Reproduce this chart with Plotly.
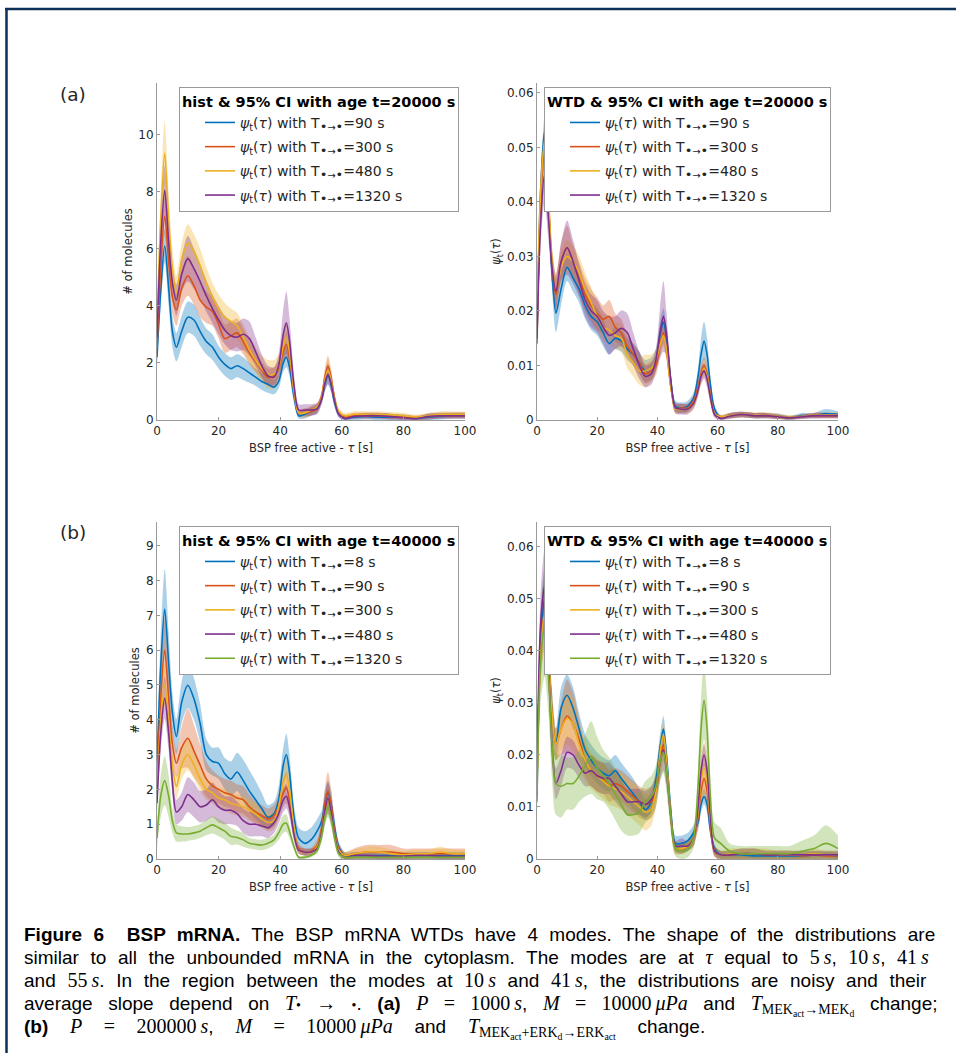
import plotly.graph_objects as go

W, H = 956, 1053

# ---------------- data ----------------
TAU = [0, 1.2, 2.5, 3.8, 5, 6.3,
       8, 10, 12, 14, 16, 18, 20, 22, 24, 26, 28, 30, 32, 34, 36, 38,
       39.5, 41, 42, 43, 44.5, 46,
       48, 50, 52,
       53.5, 54.5, 55.5, 56.5, 57.5, 59,
       61, 64, 68, 72, 76, 80, 84, 88, 92, 96, 100]

# (a) histogram, age t=20000 s
A_T = ["90", "300", "480", "1320"]
A_M = [
    [2.2, 4.5, 6.1, 4.6, 3.1, 2.55,
     3.1, 3.6, 3.5, 3.1, 2.75, 2.55, 2.2, 1.95, 1.8, 1.9, 1.8, 1.65, 1.5, 1.35, 1.25, 1.15,
     1.35, 2.0, 2.2, 1.85, 0.8, 0.15,
     0.2, 0.3, 0.4,
     0.75, 1.25, 1.55, 1.25, 0.7, 0.2,
     0.05, 0.1, 0.12, 0.1, 0.1, 0.1, 0.05, 0.1, 0.12, 0.15, 0.15],
    [2.5, 5.3, 7.15, 5.5, 4.3, 3.85,
     4.6, 5.05, 4.7, 4.2, 3.95, 3.8, 3.35, 2.85, 2.95, 3.05, 2.75, 2.35, 2.05, 1.75, 1.5, 1.55,
     1.8, 2.4, 2.65, 2.2, 1.0, 0.25,
     0.25, 0.3, 0.4,
     0.85, 1.5, 1.9, 1.5, 0.85, 0.25,
     0.1, 0.15, 0.15, 0.15, 0.12, 0.1, 0.08, 0.12, 0.15, 0.15, 0.15],
    [3.3, 7.0, 9.35, 7.0, 5.3, 4.45,
     5.6, 6.2, 5.9, 5.4, 4.8, 4.3, 3.9, 3.6, 3.45, 3.3, 2.9, 2.45, 2.1, 1.8, 1.6, 1.6,
     1.85, 2.6, 2.9, 2.4, 1.0, 0.25,
     0.25, 0.35, 0.45,
     0.8, 1.4, 1.75, 1.4, 0.8, 0.3,
     0.15, 0.2, 0.2, 0.2, 0.18, 0.15, 0.1, 0.15, 0.2, 0.2, 0.2],
    [2.9, 6.2, 8.05, 6.2, 4.8, 4.2,
     5.1, 5.65, 5.3, 4.85, 4.35, 3.9, 3.5, 3.15, 2.95, 2.9, 3.0, 2.85, 2.4, 1.9, 1.55, 1.5,
     1.9, 3.0, 3.4, 2.8, 1.2, 0.35,
     0.35, 0.35, 0.4,
     0.75, 1.3, 1.6, 1.3, 0.75, 0.2,
     0.05, 0.12, 0.15, 0.15, 0.12, 0.08, 0.05, 0.12, 0.15, 0.15, 0.15],
]
A_HW = [
    [0.3, 0.5, 0.6, 0.6, 0.55, 0.5,
     0.55, 0.55, 0.55, 0.5, 0.45, 0.45, 0.4, 0.4, 0.4, 0.4, 0.4, 0.35, 0.3, 0.3, 0.3, 0.25,
     0.25, 0.3, 0.35, 0.3, 0.2, 0.1,
     0.15, 0.15, 0.15,
     0.15, 0.25, 0.3, 0.25, 0.2, 0.1,
     0.05, 0.1, 0.1, 0.1, 0.1, 0.1, 0.08, 0.1, 0.1, 0.1, 0.1],
    [0.4, 0.6, 0.7, 0.65, 0.6, 0.55,
     0.6, 0.7, 0.65, 0.6, 0.55, 0.5, 0.5, 0.5, 0.5, 0.5, 0.45, 0.4, 0.35, 0.3, 0.3, 0.3,
     0.3, 0.4, 0.45, 0.4, 0.25, 0.12,
     0.15, 0.15, 0.15,
     0.2, 0.3, 0.35, 0.3, 0.2, 0.1,
     0.08, 0.1, 0.1, 0.1, 0.1, 0.08, 0.08, 0.1, 0.1, 0.1, 0.1],
    [0.6, 0.9, 1.1, 0.9, 0.7, 0.6,
     0.6, 0.65, 0.6, 0.6, 0.55, 0.5, 0.5, 0.5, 0.45, 0.45, 0.45, 0.45, 0.45, 0.45, 0.5, 0.5,
     0.45, 0.5, 0.5, 0.45, 0.25, 0.12,
     0.15, 0.15, 0.15,
     0.2, 0.3, 0.35, 0.3, 0.2, 0.12,
     0.1, 0.1, 0.1, 0.1, 0.1, 0.1, 0.08, 0.1, 0.1, 0.1, 0.1],
    [0.5, 0.7, 0.85, 0.75, 0.6, 0.55,
     0.6, 0.8, 0.7, 0.6, 0.55, 0.5, 0.5, 0.5, 0.5, 0.5, 0.55, 0.6, 0.5, 0.4, 0.35, 0.35,
     0.4, 0.9, 1.1, 0.8, 0.4, 0.2,
     0.2, 0.2, 0.2,
     0.2, 0.3, 0.35, 0.3, 0.2, 0.1,
     0.05, 0.08, 0.1, 0.1, 0.1, 0.08, 0.05, 0.1, 0.1, 0.1, 0.1],
]

# (a) WTD, age t=20000 s
B_M = [
    [0.015, 0.042, 0.053, 0.040, 0.027, 0.0196,
     0.024, 0.028, 0.026, 0.024, 0.021, 0.019, 0.018, 0.016, 0.014, 0.015, 0.0145, 0.013, 0.012, 0.0105, 0.009, 0.0095,
     0.011, 0.016, 0.018, 0.015, 0.007, 0.0025,
     0.0022, 0.0025, 0.004,
     0.008, 0.012, 0.0145, 0.012, 0.007, 0.002,
     0.0005, 0.0008, 0.001, 0.0008, 0.0008, 0.0007, 0.0004, 0.0008, 0.0008, 0.0012, 0.001],
    [0.014, 0.040, 0.049, 0.040, 0.028, 0.023,
     0.029, 0.0316, 0.029, 0.026, 0.023, 0.021, 0.0195, 0.0185, 0.019, 0.017, 0.016, 0.0135, 0.012, 0.0105, 0.0085, 0.009,
     0.010, 0.014, 0.016, 0.013, 0.006, 0.0022,
     0.0022, 0.0022, 0.0035,
     0.006, 0.0085, 0.010, 0.0085, 0.005, 0.0012,
     0.0005, 0.0008, 0.001, 0.0008, 0.0008, 0.0006, 0.0004, 0.0006, 0.0008, 0.0008, 0.0008],
    [0.018, 0.042, 0.051, 0.041, 0.029, 0.024,
     0.028, 0.030, 0.029, 0.027, 0.024, 0.0215, 0.019, 0.017, 0.0165, 0.0155, 0.015, 0.012, 0.0105, 0.009, 0.009, 0.0095,
     0.011, 0.014, 0.0155, 0.013, 0.006, 0.002,
     0.002, 0.002, 0.003,
     0.0055, 0.008, 0.0095, 0.008, 0.0045, 0.0012,
     0.0006, 0.0008, 0.001, 0.0009, 0.0009, 0.0007, 0.0005, 0.0007, 0.0009, 0.0009, 0.0009],
    [0.015, 0.036, 0.045, 0.037, 0.028, 0.0236,
     0.029, 0.0316, 0.029, 0.0255, 0.022, 0.020, 0.019, 0.017, 0.0155, 0.016, 0.0168, 0.016, 0.013, 0.010, 0.008, 0.0085,
     0.011, 0.0165, 0.019, 0.016, 0.007, 0.0022,
     0.002, 0.002, 0.003,
     0.0055, 0.008, 0.009, 0.0075, 0.0045, 0.001,
     0.0003, 0.0007, 0.001, 0.0008, 0.0008, 0.0006, 0.0004, 0.0006, 0.0008, 0.0008, 0.0008],
]
B_HW = [
    [0.001, 0.002, 0.0025, 0.0025, 0.003, 0.0035,
     0.003, 0.0025, 0.0025, 0.0025, 0.0025, 0.0025, 0.0025, 0.0025, 0.002, 0.002, 0.002, 0.002, 0.002, 0.002, 0.002, 0.002,
     0.002, 0.0025, 0.0025, 0.002, 0.0012, 0.001,
     0.001, 0.001, 0.001,
     0.0015, 0.003, 0.0035, 0.003, 0.0015, 0.0008,
     0.0004, 0.0005, 0.0005, 0.0005, 0.0005, 0.0005, 0.0004, 0.0005, 0.0005, 0.0008, 0.0006],
    [0.001, 0.0025, 0.003, 0.003, 0.003, 0.003,
     0.0035, 0.004, 0.003, 0.003, 0.003, 0.003, 0.003, 0.0025, 0.003, 0.0025, 0.0025, 0.002, 0.002, 0.002, 0.0018, 0.0018,
     0.0018, 0.002, 0.002, 0.0018, 0.001, 0.0008,
     0.0008, 0.0008, 0.001,
     0.0012, 0.0015, 0.0015, 0.0015, 0.0012, 0.0006,
     0.0004, 0.0005, 0.0005, 0.0005, 0.0005, 0.0004, 0.0003, 0.0004, 0.0005, 0.0005, 0.0005],
    [0.003, 0.003, 0.003, 0.003, 0.003, 0.003,
     0.003, 0.003, 0.003, 0.003, 0.003, 0.0028, 0.0025, 0.0025, 0.0025, 0.0025, 0.0025, 0.0025, 0.0025, 0.0025, 0.003, 0.0025,
     0.002, 0.002, 0.002, 0.0018, 0.001, 0.0008,
     0.0008, 0.0008, 0.001,
     0.0012, 0.0015, 0.0015, 0.0015, 0.0012, 0.0006,
     0.0004, 0.0005, 0.0005, 0.0005, 0.0005, 0.0005, 0.0004, 0.0003, 0.0004, 0.0005, 0.0005],
    [0.002, 0.004, 0.005, 0.004, 0.003, 0.003,
     0.0035, 0.005, 0.004, 0.003, 0.003, 0.003, 0.003, 0.003, 0.0035, 0.003, 0.0033, 0.0035, 0.003, 0.0025, 0.002, 0.002,
     0.002, 0.005, 0.0065, 0.004, 0.0015, 0.001,
     0.001, 0.001, 0.001,
     0.0012, 0.0015, 0.0015, 0.0015, 0.0012, 0.0006,
     0.0003, 0.0005, 0.0005, 0.0005, 0.0005, 0.0004, 0.0003, 0.0004, 0.0005, 0.0005, 0.0005],
]

# (b) histogram, age t=40000 s
C_T = ["8", "90", "300", "480", "1320"]
C_M = [
    [2.7, 5.5, 7.18, 5.6, 4.2, 3.52,
     4.5, 4.99, 4.6, 3.9, 3.0, 2.8, 2.75, 2.45, 2.3, 2.5, 2.25, 1.95, 1.7, 1.45, 1.2, 1.3,
     1.7, 2.7, 3.0, 2.5, 1.2, 0.6,
     0.45, 0.55, 0.8,
     1.1, 1.6, 1.9, 1.6, 1.0, 0.35,
     0.1, 0.1, 0.1, 0.1, 0.1, 0.1, 0.1, 0.1, 0.1, 0.1, 0.1],
    [2.2, 4.6, 6.0, 4.6, 3.3, 2.75,
     3.2, 3.47, 3.1, 2.7, 2.3, 2.1, 2.0, 1.9, 1.85, 1.75, 1.7, 1.5, 1.35, 1.25, 1.15, 1.25,
     1.5, 1.9, 2.05, 1.7, 0.8, 0.3,
     0.2, 0.22, 0.4,
     0.9, 1.6, 1.95, 1.6, 0.9, 0.3,
     0.1, 0.15, 0.2, 0.2, 0.2, 0.15, 0.15, 0.15, 0.15, 0.15, 0.15],
    [2.0, 3.9, 5.0, 3.9, 2.7, 2.08,
     2.7, 3.0, 2.7, 2.3, 2.0, 1.9, 1.75, 1.7, 1.6, 1.55, 1.5, 1.4, 1.3, 1.15, 1.05, 1.1,
     1.5, 2.2, 2.4, 2.0, 0.9, 0.25,
     0.2, 0.2, 0.35,
     0.8, 1.4, 1.7, 1.4, 0.8, 0.25,
     0.1, 0.15, 0.2, 0.2, 0.15, 0.12, 0.15, 0.15, 0.2, 0.15, 0.15],
    [1.6, 3.6, 4.62, 3.6, 2.2, 1.35,
     1.5, 1.85, 1.7, 1.5, 1.55, 1.7, 1.5, 1.4, 1.4, 1.3, 1.1, 1.0, 1.0, 0.95, 0.9, 1.05,
     1.3, 1.7, 1.8, 1.5, 0.7, 0.25,
     0.2, 0.2, 0.3,
     0.8, 1.4, 1.75, 1.4, 0.8, 0.2,
     0.05, 0.1, 0.1, 0.08, 0.08, 0.08, 0.1, 0.1, 0.08, 0.08, 0.08],
    [0.6, 1.8, 2.25, 1.8, 1.1, 0.75,
     0.72, 0.72, 0.75, 0.8, 0.9, 0.98, 0.9, 0.8, 0.65, 0.62, 0.55, 0.45, 0.42, 0.4, 0.45, 0.55,
     0.75, 1.0, 1.03, 0.8, 0.35, 0.05,
     0.05, 0.1, 0.25,
     0.7, 1.2, 1.5, 1.2, 0.7, 0.15,
     0.05, 0.05, 0.05, 0.05, 0.05, 0.05, 0.05, 0.05, 0.05, 0.05, 0.05],
]
C_HW = [
    [0.5, 0.9, 1.15, 0.9, 0.6, 0.5,
     0.6, 0.65, 0.6, 0.55, 0.45, 0.4, 0.45, 0.45, 0.5, 0.55, 0.6, 0.6, 0.55, 0.45, 0.35, 0.35,
     0.4, 0.5, 0.6, 0.5, 0.35, 0.3,
     0.35, 0.35, 0.35,
     0.3, 0.35, 0.35, 0.35, 0.3, 0.15,
     0.1, 0.1, 0.1, 0.1, 0.1, 0.1, 0.1, 0.1, 0.1, 0.1, 0.1],
    [0.4, 0.7, 0.9, 0.75, 0.5, 0.4,
     0.6, 0.85, 0.75, 0.6, 0.5, 0.45, 0.4, 0.4, 0.4, 0.4, 0.4, 0.35, 0.3, 0.3, 0.3, 0.3,
     0.35, 0.4, 0.45, 0.4, 0.25, 0.15,
     0.1, 0.1, 0.15,
     0.25, 0.45, 0.55, 0.45, 0.25, 0.15,
     0.1, 0.15, 0.2, 0.2, 0.2, 0.15, 0.15, 0.15, 0.15, 0.15, 0.15],
    [0.4, 0.5, 0.6, 0.5, 0.4, 0.35,
     0.4, 0.45, 0.4, 0.35, 0.3, 0.3, 0.3, 0.3, 0.3, 0.3, 0.3, 0.3, 0.3, 0.25, 0.25, 0.25,
     0.3, 0.35, 0.4, 0.35, 0.25, 0.1,
     0.1, 0.1, 0.15,
     0.25, 0.35, 0.4, 0.35, 0.25, 0.12,
     0.1, 0.12, 0.15, 0.15, 0.12, 0.1, 0.12, 0.12, 0.15, 0.12, 0.12],
    [0.3, 0.5, 0.6, 0.5, 0.4, 0.35,
     0.4, 0.5, 0.5, 0.45, 0.45, 0.5, 0.45, 0.4, 0.4, 0.35, 0.35, 0.35, 0.35, 0.3, 0.3, 0.3,
     0.3, 0.35, 0.35, 0.3, 0.2, 0.1,
     0.1, 0.1, 0.1,
     0.25, 0.4, 0.45, 0.4, 0.25, 0.1,
     0.05, 0.08, 0.08, 0.08, 0.08, 0.08, 0.08, 0.08, 0.08, 0.08, 0.08],
    [0.3, 0.6, 0.7, 0.6, 0.35, 0.25,
     0.22, 0.2, 0.2, 0.2, 0.22, 0.25, 0.25, 0.25, 0.25, 0.2, 0.2, 0.15, 0.15, 0.15, 0.15, 0.15,
     0.2, 0.25, 0.25, 0.2, 0.1, 0.05,
     0.05, 0.05, 0.1,
     0.2, 0.25, 0.3, 0.25, 0.2, 0.1,
     0.1, 0.08, 0.08, 0.08, 0.08, 0.08, 0.08, 0.08, 0.08, 0.08, 0.08],
]

# (b) WTD, age t=40000 s
D_M = [
    [0.012, 0.042, 0.050, 0.040, 0.028, 0.022,
     0.029, 0.0315, 0.029, 0.025, 0.021, 0.019, 0.0175, 0.0165, 0.016, 0.017, 0.0155, 0.014, 0.0125, 0.011, 0.0095, 0.011,
     0.015, 0.022, 0.025, 0.020, 0.009, 0.003,
     0.003, 0.0035, 0.005,
     0.007, 0.0105, 0.012, 0.0105, 0.006, 0.002,
     0.0008, 0.0008, 0.0008, 0.0006, 0.0006, 0.0006, 0.0006, 0.0006, 0.0008, 0.0008, 0.0006],
    [0.014, 0.040, 0.0475, 0.039, 0.028, 0.022,
     0.025, 0.0275, 0.026, 0.023, 0.019, 0.017, 0.016, 0.0155, 0.014, 0.0145, 0.014, 0.013, 0.012, 0.011, 0.0105, 0.011,
     0.013, 0.019, 0.022, 0.018, 0.008, 0.002,
     0.002, 0.0025, 0.004,
     0.008, 0.013, 0.0155, 0.013, 0.007, 0.0015,
     0.0008, 0.0008, 0.001, 0.001, 0.0008, 0.0008, 0.0008, 0.0006, 0.0008, 0.0006, 0.0006],
    [0.015, 0.039, 0.047, 0.039, 0.028, 0.022,
     0.025, 0.027, 0.026, 0.022, 0.019, 0.017, 0.016, 0.015, 0.014, 0.0135, 0.013, 0.012, 0.011, 0.010, 0.009, 0.0095,
     0.013, 0.021, 0.024, 0.019, 0.008, 0.002,
     0.002, 0.0025, 0.004,
     0.009, 0.015, 0.0175, 0.015, 0.008, 0.0015,
     0.0008, 0.001, 0.001, 0.001, 0.001, 0.0008, 0.0008, 0.0008, 0.001, 0.0008, 0.0008],
    [0.018, 0.045, 0.0525, 0.038, 0.022, 0.0145,
     0.017, 0.0205, 0.020, 0.018, 0.0165, 0.017, 0.016, 0.0155, 0.0155, 0.014, 0.0125, 0.011, 0.011, 0.011, 0.0105, 0.0115,
     0.014, 0.019, 0.021, 0.017, 0.008, 0.0025,
     0.0025, 0.0025, 0.004,
     0.010, 0.017, 0.020, 0.017, 0.009, 0.0015,
     0.0008, 0.0008, 0.001, 0.001, 0.0008, 0.0008, 0.0008, 0.0008, 0.0008, 0.0008, 0.0008],
    [0.011, 0.038, 0.045, 0.036, 0.022, 0.0145,
     0.014, 0.0145, 0.0145, 0.016, 0.018, 0.0195, 0.0175, 0.016, 0.0145, 0.0125, 0.0105, 0.0085, 0.0085, 0.009, 0.011, 0.012,
     0.014, 0.019, 0.0205, 0.017, 0.008, 0.002,
     0.0015, 0.0018, 0.004,
     0.014, 0.025, 0.0305, 0.025, 0.013, 0.004,
     0.003, 0.0015, 0.001, 0.001, 0.001, 0.001, 0.001, 0.0015, 0.002, 0.003, 0.002],
]
D_HW = [
    [0.002, 0.005, 0.006, 0.005, 0.004, 0.003,
     0.004, 0.004, 0.004, 0.003, 0.003, 0.003, 0.003, 0.003, 0.003, 0.003, 0.003, 0.003, 0.003, 0.0025, 0.002, 0.002,
     0.002, 0.0025, 0.0025, 0.0025, 0.002, 0.0015,
     0.0015, 0.0015, 0.0015,
     0.0015, 0.0015, 0.0015, 0.0015, 0.0015, 0.0008,
     0.0005, 0.0005, 0.0005, 0.0005, 0.0005, 0.0005, 0.0005, 0.0005, 0.0005, 0.0005, 0.0005],
    [0.002, 0.006, 0.007, 0.006, 0.004, 0.003,
     0.005, 0.007, 0.006, 0.004, 0.003, 0.003, 0.003, 0.003, 0.003, 0.003, 0.003, 0.003, 0.003, 0.003, 0.003, 0.003,
     0.003, 0.003, 0.003, 0.003, 0.002, 0.001,
     0.001, 0.001, 0.0015,
     0.002, 0.003, 0.003, 0.003, 0.002, 0.001,
     0.0008, 0.0008, 0.001, 0.001, 0.0008, 0.0008, 0.0008, 0.0008, 0.0008, 0.0008, 0.0008],
    [0.002, 0.005, 0.006, 0.005, 0.004, 0.003,
     0.004, 0.005, 0.005, 0.004, 0.004, 0.0035, 0.0035, 0.0035, 0.0035, 0.0035, 0.0035, 0.0035, 0.0035, 0.0035, 0.0035, 0.003,
     0.003, 0.0025, 0.0025, 0.0025, 0.0015, 0.001,
     0.001, 0.001, 0.0015,
     0.003, 0.0045, 0.005, 0.0045, 0.003, 0.001,
     0.0008, 0.001, 0.001, 0.001, 0.001, 0.0008, 0.0008, 0.0008, 0.001, 0.0008, 0.0008],
    [0.002, 0.006, 0.007, 0.006, 0.004, 0.003,
     0.003, 0.003, 0.0028, 0.0025, 0.0025, 0.003, 0.003, 0.003, 0.003, 0.003, 0.0028, 0.0025, 0.0025, 0.0025, 0.0025, 0.0025,
     0.0025, 0.0035, 0.004, 0.003, 0.0015, 0.001,
     0.0015, 0.001, 0.0015,
     0.002, 0.002, 0.002, 0.002, 0.002, 0.001,
     0.0008, 0.0008, 0.001, 0.001, 0.0008, 0.0008, 0.0008, 0.0008, 0.0008, 0.0008, 0.0008],
    [0.003, 0.008, 0.01, 0.008, 0.007, 0.006,
     0.006, 0.005, 0.005, 0.005, 0.006, 0.007, 0.006, 0.005, 0.005, 0.005, 0.005, 0.004, 0.004, 0.004, 0.004, 0.004,
     0.004, 0.004, 0.004, 0.004, 0.003, 0.0015,
     0.0015, 0.0015, 0.002,
     0.004, 0.006, 0.0075, 0.006, 0.004, 0.003,
     0.003, 0.0015, 0.0015, 0.0015, 0.0015, 0.0015, 0.0015, 0.002, 0.0025, 0.0035, 0.0025],
]

for arr in A_M + A_HW + B_M + B_HW + C_M + C_HW + D_M + D_HW:
    assert len(arr) == len(TAU), len(arr)

COLORS = ["#0072BD", "#D95319", "#EDB120", "#7E2F8E", "#77AC30"]
BANDS = ["rgba(0,114,189,0.33)", "rgba(217,83,25,0.33)", "rgba(237,177,32,0.33)",
         "rgba(126,47,142,0.33)", "rgba(119,172,48,0.33)"]

TXT = "#262626"
FONT = "DejaVu Sans"


def px_x(p):
    return p / W


def px_y(p):
    return 1 - p / H


fig = go.Figure()

BUL = '<span style="font-size:13px">•</span>'
PANELS = [
    ("x", "y", "legend", A_M, A_HW, A_T),
    ("x2", "y2", "legend2", B_M, B_HW, A_T),
    ("x3", "y3", "legend3", C_M, C_HW, C_T),
    ("x4", "y4", "legend4", D_M, D_HW, C_T),
]

for xa, ya, lg, means, hws, labels in PANELS:
    for i, (m, hw) in enumerate(zip(means, hws)):
        lo = [a - b for a, b in zip(m, hw)]
        hi = [a + b for a, b in zip(m, hw)]
        grp = f"{lg}_{i}"
        fig.add_trace(go.Scatter(x=TAU, y=lo, xaxis=xa, yaxis=ya, mode="lines",
                                 line=dict(width=0, shape="spline", smoothing=0.8),
                                 showlegend=False, legend=lg, legendgroup=grp, hoverinfo="skip"))
        fig.add_trace(go.Scatter(x=TAU, y=hi, xaxis=xa, yaxis=ya, mode="lines",
                                 line=dict(width=0, shape="spline", smoothing=0.8),
                                 fill="tonexty", fillcolor=BANDS[i],
                                 showlegend=False, legend=lg, legendgroup=grp, hoverinfo="skip"))
    for i, (m, lab) in enumerate(zip(means, labels)):
        grp = f"{lg}_{i}"
        fig.add_trace(go.Scatter(
            x=TAU, y=m, xaxis=xa, yaxis=ya, mode="lines",
            line=dict(color=COLORS[i], width=1.6, shape="spline", smoothing=0.8),
            name=f"<i>ψ</i><sub>t</sub>(<i>τ</i>) with T<sub>{BUL}→{BUL}</sub>={lab} s",
            legend=lg, legendgroup=grp, showlegend=True))

# ---------------- layout ----------------
XL = (157, 465)
XR = (537, 838)
YT = (83, 420)
YB = (522, 859)

Y_RANGES = {"y": 11.8, "y2": 0.0618, "y3": 9.68, "y4": 0.0648}
Y_DT = {"y": 2, "y2": 0.01, "y3": 1, "y4": 0.01}


def xaxis(dom, anchor):
    return dict(domain=[px_x(dom[0]), px_x(dom[1])], range=[0, 100], dtick=20, tick0=0, anchor=anchor,
                showline=True, linecolor="#9a9a9a", linewidth=1, ticks="inside", ticklen=3,
                tickcolor="#9a9a9a", showgrid=False, zeroline=False, automargin=False,
                tickfont=dict(family=FONT, size=12, color=TXT),
                title=dict(text="BSP free active - <i>τ</i> [s]", font=dict(family=FONT, size=11.5, color=TXT),
                           standoff=6))


def yaxis(dom, key, anchor, title):
    return dict(domain=[px_y(dom[1]), px_y(dom[0])], range=[0, Y_RANGES[key]], dtick=Y_DT[key], tick0=0,
                anchor=anchor, showline=True, linecolor="#9a9a9a", linewidth=1, ticks="inside", ticklen=3,
                tickcolor="#9a9a9a", showgrid=False, zeroline=False, automargin=False,
                tickfont=dict(family=FONT, size=12, color=TXT),
                title=dict(text=title, font=dict(family=FONT, size=11.5, color=TXT), standoff=3))


PSI = "<i>ψ</i><sub>t</sub>(<i>τ</i>)"
MOL = "# of molecules"

layout = dict(
    width=W, height=H, margin=dict(l=0, r=0, t=0, b=0, autoexpand=False),
    paper_bgcolor="white", plot_bgcolor="white",
    xaxis=xaxis(XL, "y"),
    xaxis2=xaxis(XR, "y2"),
    xaxis3=xaxis(XL, "y3"),
    xaxis4=xaxis(XR, "y4"),
    yaxis=yaxis(YT, "y", "x", MOL),
    yaxis2=yaxis(YT, "y2", "x2", PSI),
    yaxis3=yaxis(YB, "y3", "x3", MOL),
    yaxis4=yaxis(YB, "y4", "x4", PSI),
)


def legend(xp, yp, title):
    return dict(x=px_x(xp), y=px_y(yp), xanchor="left", yanchor="top",
                bgcolor="white", bordercolor="#9a9a9a", borderwidth=1,
                title=dict(text=f"<b>{title}</b>", font=dict(family=FONT, size=14.5, color="black")),
                font=dict(family=FONT, size=14, color=TXT),
                indentation=20, tracegroupgap=3, itemwidth=30, traceorder="grouped")


layout["legend"] = legend(179, 87, "hist &amp; 95% CI with age t=20000 s")
layout["legend2"] = legend(544, 87, "WTD &amp; 95% CI with age t=20000 s")
layout["legend3"] = legend(179, 526, "hist &amp; 95% CI with age t=40000 s")
layout["legend4"] = legend(544, 526, "WTD &amp; 95% CI with age t=40000 s")

fig.update_layout(**layout)

shapes = []
for x0, x1, yy in [(179, 459, 110), (544, 830, 110), (179, 459, 549), (544, 830, 549)]:
    shapes.append(dict(type="line", xref="paper", yref="paper", x0=px_x(x0), x1=px_x(x1),
                       y0=px_y(yy), y1=px_y(yy), line=dict(color="#9a9a9a", width=1)))
NAVY = "#0c3157"
shapes.append(dict(type="line", xref="paper", yref="paper", x0=px_x(5), x1=1.0, y0=px_y(9), y1=px_y(9),
                   line=dict(color=NAVY, width=2.5)))
shapes.append(dict(type="line", xref="paper", yref="paper", x0=px_x(6.5), x1=px_x(6.5), y0=px_y(8), y1=0,
                   line=dict(color=NAVY, width=2.5)))
fig.update_layout(shapes=shapes)

ann = []
for lab, yy in [("(a)", 94), ("(b)", 532)]:
    ann.append(dict(text=lab, xref="paper", yref="paper", x=px_x(58), y=px_y(yy), xanchor="left",
                    yanchor="middle", showarrow=False, font=dict(family=FONT, size=18.5, color=TXT)))

TS = "\u2009"  # thin space inside math


def S(t):
    return f'<span style="font-family:Liberation Serif;font-size:20px">{t}</span>'


def J(t, ws):
    return f'<span style="font-size:19px;word-spacing:{ws}px">{t}</span>'


SB = '<span style="font-size:14px">•</span>'
CAP = [
    J("<b>Figure 6  BSP mRNA.</b> The BSP mRNA WTDs have 4 modes. The shape of the distributions are", 6.1),
    J("similar to all the unbounded mRNA in the cytoplasm. The modes are at " + S("<i>τ</i>") + " equal to "
      + S(f"5{TS}<i>s</i>") + ", " + S(f"10{TS}<i>s</i>") + ", " + S(f"41{TS}<i>s</i>"), 6.3),
    J("and " + S(f"55{TS}<i>s</i>") + ". In the region between the modes at " + S(f"10{TS}<i>s</i>") + " and "
      + S(f"41{TS}<i>s</i>") + ", the distributions are noisy and their", 6.4),
    J("average slope depend on " + S(f"<i>T</i>{SB} → {SB}") + ". <b>(a)</b> "
      + S(f"<i>P</i> = 1000{TS}<i>s</i>") + ", " + S(f"<i>M</i> = 10000{TS}<i>μPa</i>") + " and "
      + S("<i>T</i><sub>MEK<sub>act</sub>→MEK<sub>d</sub></sub>") + " change;", 10.3),
    J("<b>(b)</b> " + S(f"<i>P</i> = 200000{TS}<i>s</i>") + ", " + S(f"<i>M</i> = 10000{TS}<i>μPa</i>")
      + " and " + S("<i>T</i><sub>MEK<sub>act</sub>+ERK<sub>d</sub>→ERK<sub>act</sub></sub>") + " change.", 16.5),
]
# one multi-line caption block; base size sets the ~23 px line pitch
ann.append(dict(text="<br>".join(CAP), xref="paper", yref="paper", x=px_x(22), y=px_y(983),
                xanchor="left", yanchor="middle", align="left", showarrow=False,
                font=dict(family="Liberation Sans", size=17.7, color="black")))
fig.update_layout(annotations=ann)

fig.write_html("out.html")
